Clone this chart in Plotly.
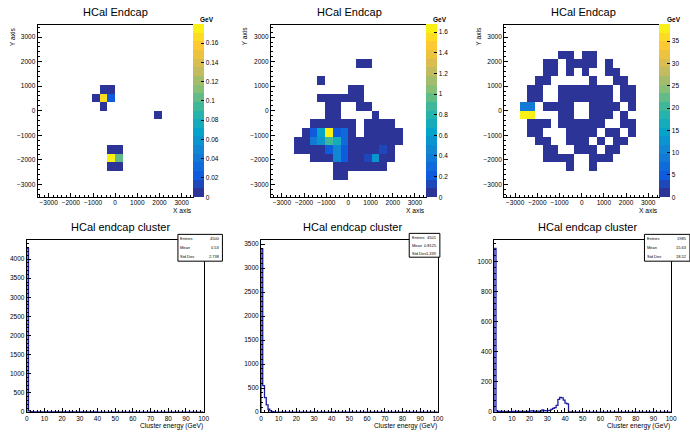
import numpy as np
import plotly.graph_objects as go

FONT = "Liberation Sans, Arial, Helvetica, sans-serif"
W, H = 690, 432

# ---------------- data ----------------
xy_edges = list(range(-3500, 3501, 350))          # 20 bins per axis
xy_centers = [(a + b) / 2 for a, b in zip(xy_edges[:-1], xy_edges[1:])]

# cell maps, top row = highest y bin, '.' = empty bin
p1_map = [
    "....................", "....................", "....................",
    "....................", "....................", "....................",
    "....................", "........##..........", ".......#yb..........",
    "........#...........", "...............#....", "....................",
    "....................", "....................", ".........##.........",
    ".........Yg.........", ".........##.........", "....................",
    "....................", "....................",
]
p1_codes = {"#": 0.004, "y": 0.165, "b": 0.025, "Y": 0.1797, "g": 0.10}
p1_zmax = 0.1797

p2_map = [
    "....................", "....................", "....................",
    "....................", "...........##.......", "....................",
    "......#.............", "..........##........", "......######........",
    ".......##..##.......", ".......##....#......", ".....######.####....",
    "....#acYbd#.#####...", "...##efghd#######...", "...####bib####j#....",
    ".....###ib##jf##....", "........#######.....", "........##..........",
    "....................", "....................",
]
p2_codes = {"#": 0.02, "Y": 1.677, "a": 0.25, "b": 0.2, "c": 0.6, "d": 0.3,
            "e": 0.35, "f": 0.55, "g": 0.85, "h": 0.72, "i": 0.5, "j": 0.15}
p2_zmax = 1.677

p3_map = [
    "....................", "....................", "....................",
    ".......##.##........", ".....##.####.#......", ".....##.#.#..##.....",
    "....##.....#..##....", "...##..#######.##...", "...##..#######.##...",
    "..bb.####..####.#...", "..YY...##..###.#....", "...###.######..##...",
    "...##...####.##.#...", "....##..###.#.##....", ".....##..###.##.....",
    ".....####..###......", "........#..#........", "....................",
    "....................", "....................",
]
p3_codes = {"#": 0.5, "b": 8.0, "Y": 38.8}
p3_zmax = 38.8

e_edges = list(range(0, 101))      # 1 GeV bins, 0-100 GeV
p4_counts = [4280, 30, 15, 10, 8, 6, 5, 4, 4, 3,
             5, 4, 5, 4, 5, 4, 5, 4, 5, 4,
             5, 4, 5, 4, 5, 4, 5, 4, 5, 4,
             5, 4, 5, 4, 5, 4, 5, 4, 5, 4,
             2, 1, 1, 0, 0, 0, 0, 0, 0, 0,
             0, 0, 0, 0, 0, 0, 0, 0, 0, 0,
             0, 0, 0, 0, 0, 0, 0, 0, 0, 0,
             0, 0, 0, 0, 0, 0, 0, 0, 0, 0,
             0, 0, 0, 0, 0, 0, 0, 0, 0, 0,
             0, 0, 0, 0, 0, 0, 0, 0, 0, 0]
p5_counts = [3400, 550, 300, 150, 60, 25, 10, 5, 1, 0] + [0] * 90
p6_counts = [1087, 8, 5, 4, 4, 3, 3, 4, 3, 3,
             4, 3, 4, 3, 4, 3, 4, 3, 4, 5,
             6, 8, 6, 5, 6, 5, 6, 15, 10, 8,
             10, 12, 18, 25, 30, 45, 85, 98, 95, 80,
             60, 55, 2, 1, 0, 0, 0, 0, 0, 0,
             0, 0, 0, 0, 0, 0, 0, 0, 0, 0,
             0, 0, 0, 0, 0, 0, 0, 0, 0, 0,
             0, 0, 0, 0, 0, 0, 0, 0, 0, 0,
             0, 0, 0, 0, 0, 0, 0, 0, 0, 0,
             0, 0, 0, 0, 0, 0, 0, 0, 0, 0]
p4_ymax, p5_ymax, p6_ymax = 4490, 3580, 1141
stat_labels = ["Entries", "Mean", "Std Dev"]
p4_stats = ["4500", "0.53", "2.738"]
p5_stats = ["4501", "0.8125", "1.339"]
p6_stats = ["1985", "15.63", "18.52"]

# ---------------- style helpers ----------------
bird_stops = [0.0, 0.125, 0.25, 0.375, 0.5, 0.625, 0.75, 0.875, 1.0]
bird_r = [0.2082, 0.0592, 0.0780, 0.0232, 0.1802, 0.5301, 0.8186, 0.9956, 0.9764]
bird_g = [0.1664, 0.3599, 0.5041, 0.6419, 0.7178, 0.7492, 0.7328, 0.7862, 0.9832]
bird_b = [0.5293, 0.8684, 0.8385, 0.7914, 0.6425, 0.4662, 0.3499, 0.1968, 0.0539]


def bird(t):
    r = np.interp(t, bird_stops, bird_r)
    g = np.interp(t, bird_stops, bird_g)
    b = np.interp(t, bird_stops, bird_b)
    return f"rgb({int(r*255)},{int(g*255)},{int(b*255)})"


NLEV = 20
cscale = []
for i in range(NLEV):
    c = bird((i + 0.5) / NLEV)
    cscale.append([i / NLEV, c])
    cscale.append([(i + 1) / NLEV, c])


def grid(rows, codes):
    z = []
    for row in reversed(rows):
        row = row.ljust(20, ".")
        z.append([codes[ch] if ch != "." else None for ch in row])
    return z


def px(x):
    return x / W


def py(y):
    return 1 - y / H


fig = go.Figure()
layout = dict(width=W, height=H, margin=dict(l=0, r=0, t=0, b=0),
              paper_bgcolor="white", plot_bgcolor="white", showlegend=False,
              font=dict(family=FONT, color="black"))
annotations = []
shapes = []

axis_common = dict(showline=True, mirror=True, linecolor="black", linewidth=1,
                   ticks="inside", ticklen=4, tickwidth=1, tickcolor="black",
                   showgrid=False, zeroline=False, fixedrange=True,
                   tickfont=dict(family=FONT, size=6.5, color="black"))

top_frames = [(36, 193), (272, 429), (508, 665)]
top_y = (25, 198)
heat = [(p1_map, p1_codes, p1_zmax, 0.02), (p2_map, p2_codes, p2_zmax, 0.2),
        (p3_map, p3_codes, p3_zmax, 5)]
title_cx = [115, 352, 588]
gev_cx = [207, 443, 680]
yaxis_tx = [10, 245, 482]

for k, ((x0, x1), (mp, codes, zmax, cdt)) in enumerate(zip(top_frames, heat)):
    n = k + 1
    xa, ya = f"x{n}", f"y{n}"
    fig.add_trace(go.Heatmap(
        x=xy_centers, y=xy_centers, z=grid(mp, codes), zmin=0, zmax=zmax,
        colorscale=cscale, xaxis=xa, yaxis=ya, hoverinfo="skip",
        colorbar=dict(x=px(x1), xanchor="left", xpad=0, ypad=0,
                      y=py((top_y[0] + top_y[1]) / 2), yanchor="middle",
                      len=top_y[1] - top_y[0], lenmode="pixels",
                      thickness=11, thicknessmode="pixels",
                      outlinewidth=0,
                      ticks="inside", ticklen=3, tickcolor="black",
                      tick0=0, dtick=cdt,
                      tickfont=dict(family=FONT, size=6.5, color="black"))))
    layout[f"xaxis{n}"] = dict(axis_common, domain=[px(x0), px(x1)], anchor=ya,
                               range=[-3500, 3500], tick0=0, dtick=1000,
                               minor=dict(ticks="inside", ticklen=2, dtick=200,
                                          tickcolor="black", showgrid=False))
    layout[f"yaxis{n}"] = dict(axis_common, domain=[py(top_y[1]), py(top_y[0])],
                               anchor=xa, range=[-3500, 3500], tick0=0, dtick=1000,
                               minor=dict(ticks="inside", ticklen=2, dtick=200,
                                          tickcolor="black", showgrid=False))
    annotations.append(dict(text="HCal Endcap", x=px(title_cx[k]), y=py(12),
                            xref="paper", yref="paper", showarrow=False,
                            font=dict(size=11), xanchor="center", yanchor="middle"))
    annotations.append(dict(text="<b>GeV</b>", x=px(gev_cx[k]), y=py(20),
                            xref="paper", yref="paper", showarrow=False,
                            font=dict(size=6.5), xanchor="center", yanchor="middle"))
    annotations.append(dict(text="X axis", x=px(x1), y=py(211.5),
                            xref="paper", yref="paper", showarrow=False, borderpad=0,
                            font=dict(size=6.7), xanchor="right", yanchor="middle"))
    annotations.append(dict(text="Y axis", x=px(yaxis_tx[k]), y=py(top_y[0]),
                            xref="paper", yref="paper", showarrow=False, textangle=-90,
                            font=dict(size=6.7), xanchor="center", yanchor="top"))

bot_frames = [(25, 204), (262, 441), (498, 677)]
bot_y = (242, 415)
hists = [(p4_counts, p4_ymax, 500, 100, p4_stats),
         (p5_counts, p5_ymax, 500, 100, p5_stats),
         (p6_counts, p6_ymax, 200, 40, p6_stats)]
btitle_cx = [120, 355, 592]
stat_boxes = [(178, 223, 236, 263), (412, 443, 235, 259), (650, 696, 236, 263)]

for k, ((x0, x1), (counts, ymax, ydt, ymdt, stats)) in enumerate(zip(bot_frames, hists)):
    n = k + 4
    xa, ya = f"x{n}", f"y{n}"
    xs = [e_edges[0]] + e_edges
    ys = [0] + counts + [counts[-1]]
    fig.add_trace(go.Scatter(x=xs, y=ys, mode="lines", line_shape="hv",
                             line=dict(color="#1c1ca8", width=1.3),
                             xaxis=xa, yaxis=ya, hoverinfo="skip", cliponaxis=True))
    layout[f"xaxis{n}"] = dict(axis_common, domain=[px(x0), px(x1)], anchor=ya,
                               range=[0, 100], tick0=0, dtick=10,
                               minor=dict(ticks="inside", ticklen=2, dtick=2,
                                          tickcolor="black", showgrid=False))
    layout[f"yaxis{n}"] = dict(axis_common, domain=[py(bot_y[1]), py(bot_y[0])],
                               anchor=xa, range=[0, ymax], tick0=0, dtick=ydt,
                               minor=dict(ticks="inside", ticklen=2, dtick=ymdt,
                                          tickcolor="black", showgrid=False))
    annotations.append(dict(text="HCal endcap cluster", x=px(btitle_cx[k]), y=py(229),
                            xref="paper", yref="paper", showarrow=False,
                            font=dict(size=11), xanchor="center", yanchor="middle"))
    annotations.append(dict(text="Cluster energy (GeV)", x=px(x1), y=py(428.5),
                            xref="paper", yref="paper", showarrow=False, borderpad=0,
                            font=dict(size=6.7), xanchor="right", yanchor="middle"))
    bx0, bx1, by0, by1 = stat_boxes[k]
    shapes.append(dict(type="rect", xref="paper", yref="paper",
                       x0=px(bx0), x1=px(bx1), y0=py(by0), y1=py(by1),
                       line=dict(color="black", width=1), fillcolor="white"))
    rh = (by1 - by0) / 3
    for j in range(3):
        yc = by0 + rh * (j + 0.5)
        annotations.append(dict(text=stat_labels[j], x=px(bx0 + 1.5), y=py(yc),
                                xref="paper", yref="paper", showarrow=False, borderpad=0,
                                font=dict(size=4), xanchor="left", yanchor="middle"))
        annotations.append(dict(text=stats[j], x=px(bx1 - 1.5), y=py(yc),
                                xref="paper", yref="paper", showarrow=False, borderpad=0,
                                font=dict(size=4), xanchor="right", yanchor="middle"))

layout["annotations"] = annotations
layout["shapes"] = shapes
fig.update_layout(**layout)
fig.write_html("out.html")
